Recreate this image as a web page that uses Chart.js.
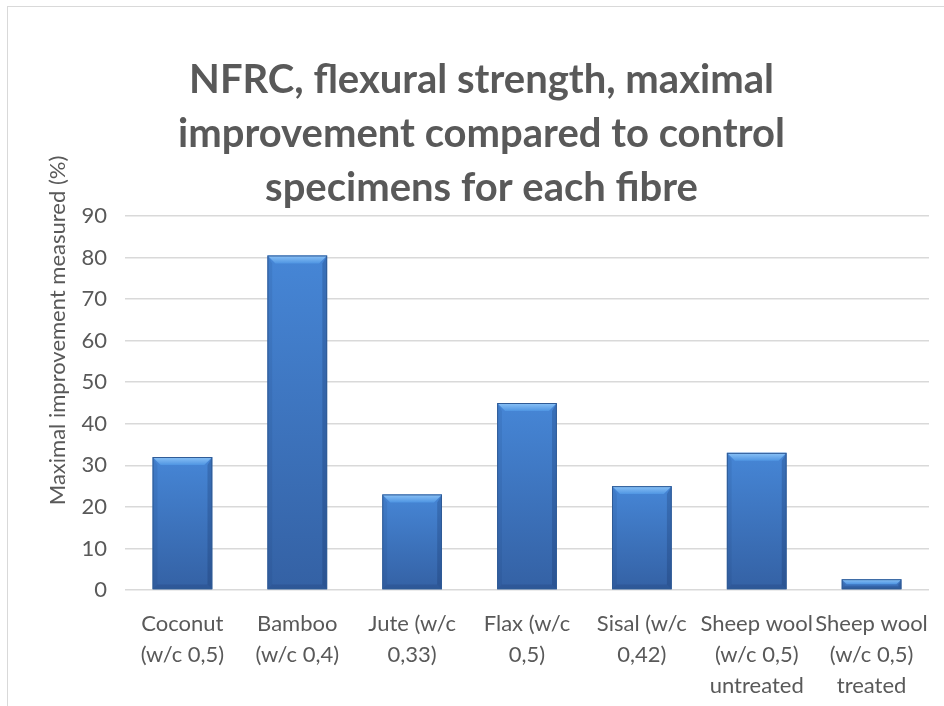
<!DOCTYPE html>
<html>
<head>
<meta charset="utf-8">
<script src="https://cdn.jsdelivr.net/npm/chart.js@4/dist/chart.umd.min.js"></script>
<style>
  html, body { margin: 0; padding: 0; background: #fff; }
  #wrap { position: relative; width: 944px; height: 706px; overflow: hidden; }
  #frame { position: absolute; left: 7px; top: 6px; width: 1000px; height: 800px;
           border-left: 1.5px solid #d9d9d9; border-top: 1.5px solid #d9d9d9; }
  #c { position: absolute; left: 0; top: 0; }
</style>
</head>
<body>
<div id="wrap">
  <div id="frame"></div>
  <canvas id="c" width="944" height="706"></canvas>
</div>
<script>
// chart data
const categories = [
  ['Coconut', '(w/c 0,5)'],
  ['Bamboo', '(w/c 0,4)'],
  ['Jute (w/c', '0,33)'],
  ['Flax (w/c', '0,5)'],
  ['Sisal (w/c', '0,42)'],
  ['Sheep wool', '(w/c 0,5)', 'untreated'],
  ['Sheep wool', '(w/c 0,5)', 'treated']
];
const improvement = [32, 80.5, 23, 45, 25, 33, 2.6];
const yTicks = [0, 10, 20, 30, 40, 50, 60, 70, 80, 90];

const titleLines = [
  'NFRC, flexural strength, maximal',
  'improvement compared to control',
  'specimens for each fibre'
];
const yTitle = 'Maximal improvement measured (%)';

const textColor = '#595959';
const fontFamily = 'Lato, "Open Sans", sans-serif';

// vertical gradient per bar, lighter on top
function barFill(context) {
  const chart = context.chart;
  const area = chart.chartArea;
  if (!area) return '#3a75c4';
  const yScale = chart.scales.y;
  const top = yScale.getPixelForValue(context.raw);
  const bottom = yScale.getPixelForValue(0);
  const g = chart.ctx.createLinearGradient(0, top, 0, bottom);
  g.addColorStop(0, '#4686d6');
  g.addColorStop(1, '#3461a4');
  return g;
}

// Excel-like bevel on each bar
const bevelPlugin = {
  id: 'bevel',
  afterDatasetsDraw(chart) {
    const ctx = chart.ctx;
    const meta = chart.getDatasetMeta(0);
    meta.data.forEach(bar => {
      const p = bar.getProps(['x', 'y', 'base', 'width'], true);
      const L = p.x - p.width / 2, R = p.x + p.width / 2;
      const T = p.y, B = p.base;
      const b = Math.min(8, (B - T) / 2);
      ctx.save();
      // top facet
      const gt = ctx.createLinearGradient(0, T, 0, T + b);
      gt.addColorStop(0, '#8cc3f7');
      gt.addColorStop(1, '#4f95e2');
      ctx.fillStyle = gt;
      ctx.beginPath();
      ctx.moveTo(L, T); ctx.lineTo(R, T); ctx.lineTo(R - b, T + b); ctx.lineTo(L + b, T + b);
      ctx.closePath(); ctx.fill();
      // left facet
      ctx.fillStyle = 'rgba(20,50,100,0.10)';
      ctx.beginPath();
      ctx.moveTo(L, T); ctx.lineTo(L + b * 0.6, T + b); ctx.lineTo(L + b * 0.6, B - b * 0.6); ctx.lineTo(L, B);
      ctx.closePath(); ctx.fill();
      // right facet
      ctx.fillStyle = 'rgba(15,35,80,0.22)';
      ctx.beginPath();
      ctx.moveTo(R, T); ctx.lineTo(R - b * 0.6, T + b); ctx.lineTo(R - b * 0.6, B - b * 0.6); ctx.lineTo(R, B);
      ctx.closePath(); ctx.fill();
      // bottom facet
      ctx.fillStyle = 'rgba(15,35,80,0.15)';
      ctx.beginPath();
      ctx.moveTo(L, B); ctx.lineTo(L + b * 0.6, B - b * 0.6); ctx.lineTo(R - b * 0.6, B - b * 0.6); ctx.lineTo(R, B);
      ctx.closePath(); ctx.fill();
      // outline
      ctx.strokeStyle = '#2f5b96';
      ctx.lineWidth = 1;
      ctx.strokeRect(L + 0.5, T + 0.5, R - L - 1, B - T - 1);
      ctx.restore();
    });
  }
};

// rotated y-axis title, placed like the original (centred above the plot middle)
const yTitlePlugin = {
  id: 'yTitle',
  afterDraw(chart) {
    const ctx = chart.ctx;
    const area = chart.chartArea;
    ctx.save();
    ctx.translate(58, area.top + (area.bottom - area.top) * 0.306);
    ctx.rotate(-Math.PI / 2);
    ctx.font = '22px ' + fontFamily;
    ctx.fillStyle = textColor;
    ctx.textAlign = 'center';
    ctx.textBaseline = 'middle';
    ctx.fillText(yTitle, 0, 0);
    ctx.restore();
  }
};

const ctx = document.getElementById('c').getContext('2d');

new Chart(ctx, {
  type: 'bar',
  data: {
    labels: categories,
    datasets: [{
      label: 'Maximal improvement',
      data: improvement,
      backgroundColor: barFill,
      borderWidth: 0,
      barPercentage: 0.52,
      categoryPercentage: 1
    }]
  },
  options: {
    responsive: false,
    animation: false,
    events: [],
    layout: {
      padding: { left: 34, right: 15, top: 0, bottom: 0 }
    },
    plugins: {
      legend: { display: false },
      tooltip: { enabled: false },
      title: {
        display: true,
        text: titleLines,
        color: textColor,
        font: { family: fontFamily, size: 40, weight: 'bold', lineHeight: '54px' },
        padding: { top: 53, bottom: 1 }
      }
    },
    scales: {
      x: {
        afterFit(scale) { scale.height = 116; },
        grid: { display: false },
        border: { display: false },
        ticks: {
          color: textColor,
          font: { family: fontFamily, size: 22, lineHeight: '31px' },
          padding: 10,
          maxRotation: 0,
          minRotation: 0,
          autoSkip: false
        }
      },
      y: {
        min: 0,
        max: 90,
        afterFit(scale) { scale.width = 91; },
        afterBuildTicks(scale) { scale.ticks = yTicks.map(v => ({ value: v })); },
        grid: { color: '#d9d9d9', lineWidth: 1.5, drawTicks: false },
        border: { display: false },
        ticks: {
          color: textColor,
          font: { family: fontFamily, size: 22 },
          padding: 18
        }
      }
    }
  },
  plugins: [bevelPlugin, yTitlePlugin]
});
</script>
</body>
</html>
